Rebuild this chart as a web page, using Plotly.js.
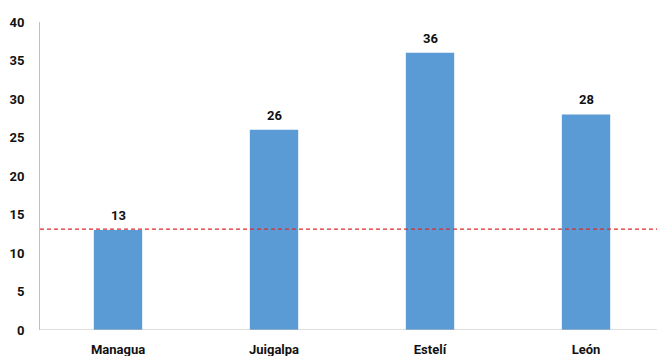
<!DOCTYPE html>
<html><head><meta charset="utf-8">
<script src="https://cdn.plot.ly/plotly-3.0.1.min.js"></script>
<style>html,body{margin:0;padding:0;background:#fff}#c{width:657px;height:356px}</style>
</head><body><div id="c"></div>
<script>
const categories = ["Managua", "Juigalpa", "Estelí", "León"];
const values = [13, 26, 36, 28];
const referenceLine = 13.1;
const yTicks = [0, 5, 10, 15, 20, 25, 30, 35, 40];

const font = "Roboto, 'DejaVu Sans Condensed', sans-serif";
const labelFont = {family: font, size: 13, color: "#111", weight: 700};
Plotly.newPlot("c", [{
  type: "bar",
  x: categories,
  y: values,
  marker: {color: "#5b9bd5"},
  width: 0.31,
  hoverinfo: "skip"
}], {
  width: 657, height: 356,
  margin: {l: 40, r: 0, t: 22, b: 26},
  paper_bgcolor: "#fff", plot_bgcolor: "#fff",
  showlegend: false,
  font: labelFont,
  xaxis: {
    range: [-0.5, 3.455], showgrid: false, zeroline: false,
    showline: false, ticks: "", tickfont: labelFont,
    ticklen: 0, ticklabelstandoff: 10, automargin: false
  },
  yaxis: {
    range: [0, 40], tickvals: yTicks, ticktext: yTicks.map(String),
    showgrid: false, zeroline: false, showline: true, linecolor: "#bfbfbf", linewidth: 1,
    ticks: "", ticklabelstandoff: 12, tickfont: labelFont,
    automargin: false
  },
  annotations: categories.map((c, i) => ({
    x: c, y: values[i], xref: "x", yref: "y", text: String(values[i]),
    showarrow: false, yanchor: "bottom", yshift: 5, font: labelFont
  })),
  shapes: [
    {type: "line", xref: "paper", x0: 0, x1: 1, yref: "y", y0: 0, y1: 0,
     line: {color: "#bfbfbf", width: 1}},
    {type: "line", xref: "paper", x0: 0, x1: 1, yref: "y", y0: referenceLine, y1: referenceLine,
     layer: "above", line: {color: "#dd2a2a", width: 1.3, dash: "4px,3px"}}
  ]
}, {staticPlot: true, displayModeBar: false});
</script></body></html>
